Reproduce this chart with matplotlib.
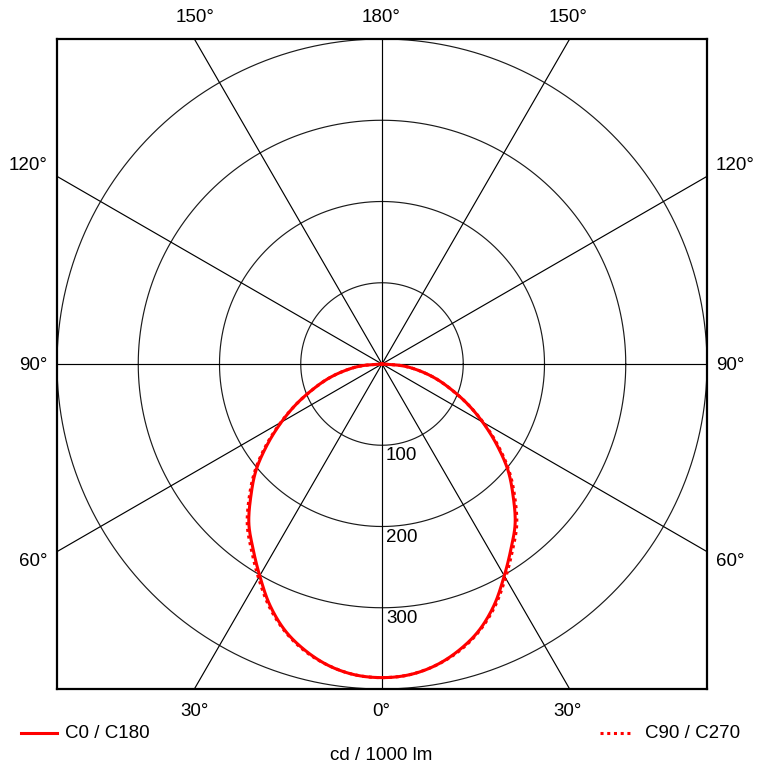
import numpy as np
import matplotlib
matplotlib.use("Agg")
import matplotlib.pyplot as plt

plt.rcParams['font.family'] = ['Liberation Sans', 'DejaVu Sans']

# Data: luminous intensity (cd / 1000 lm) vs. gamma angle (deg, 0 = downward)
gamma_deg = [0, 5, 10, 15, 20, 25, 30, 35, 40, 45, 50, 55, 60, 65, 70, 75, 80, 85, 90]
c0_c180 = [386, 384, 377, 365, 349, 327, 301, 277, 255, 228, 202, 172, 143, 116, 90, 68, 46, 25, 0]
c90_c270 = [386, 384, 377, 366, 350, 329, 304, 280, 258, 231, 204, 174, 144, 116, 90, 68, 46, 25, 0]

ring_values = [100, 200, 300, 400]
ring_labels = ["100", "200", "300"]
spoke_angles = list(range(0, 360, 30))
series_names = ["C0 / C180", "C90 / C270"]
unit_label = "cd / 1000 lm"

W, H = 764, 772
fig = plt.figure(figsize=(W / 100, H / 100), dpi=100)
ax = fig.add_axes([57 / W, 1 - 689 / H, 650 / W, 650 / H])
ax.set_xlim(-400, 400)
ax.set_ylim(-400, 400)
ax.set_xticks([])
ax.set_yticks([])
for s in ax.spines.values():
    s.set_linewidth(1.6)
    s.set_color('black')

t = np.linspace(0, 2 * np.pi, 721)
for r in ring_values:
    ax.plot(r * np.cos(t), r * np.sin(t), color='#1a1a1a', lw=0.85, zorder=1)

for a in spoke_angles:
    ar = np.radians(a)
    ax.plot([0, 1000 * np.sin(ar)], [0, -1000 * np.cos(ar)], color='black', lw=0.85, zorder=1)


def catmull_rom(px, py, n=20):
    px = np.asarray(px, float)
    py = np.asarray(py, float)
    P = np.stack([px, py], axis=1)
    P = np.vstack([2 * P[0] - P[1], P, 2 * P[-1] - P[-2]])
    out = []
    s = np.linspace(0, 1, n, endpoint=False)
    for i in range(1, len(P) - 2):
        p0, p1, p2, p3 = P[i - 1], P[i], P[i + 1], P[i + 2]
        for u in s:
            u2, u3 = u * u, u * u * u
            pt = 0.5 * ((2 * p1) + (-p0 + p2) * u + (2 * p0 - 5 * p1 + 4 * p2 - p3) * u2
                        + (-p0 + 3 * p1 - 3 * p2 + p3) * u3)
            out.append(pt)
    out.append(P[-2])
    out = np.array(out)
    return out[:, 0], out[:, 1]


def curve(vals):
    g = np.radians(np.array(gamma_deg, dtype=float))
    v = np.array(vals, dtype=float)
    gg = np.concatenate([-g[::-1], g[1:]])
    vv = np.concatenate([v[::-1], v[1:]])
    x = vv * np.sin(gg)
    y = -vv * np.cos(gg)
    return catmull_rom(x, y)


x1, y1 = curve(c0_c180)
x2, y2 = curve(c90_c270)
ax.plot(x2, y2, color='red', lw=2.2, linestyle=(0, (1, 1.2)), zorder=3)
ax.plot(x1, y1, color='red', lw=2.2, zorder=4)

for r, lab in zip(ring_values, ring_labels):
    ax.text(5, -(r + 13), lab, ha='left', va='center', fontsize=13.5, color='black', zorder=5)

fs = 13.5
def ftext(px, py, s, ha='center'):
    fig.text(px / W, 1 - py / H, s, ha=ha, va='center', fontsize=fs, color='black')

ftext(381, 17, "180°")
ftext(195, 17, "150°")
ftext(568, 17, "150°")
ftext(48, 166, "120°", ha='right')
ftext(716, 166, "120°", ha='left')
ftext(48, 365, "90°", ha='right')
ftext(716, 365, "90°", ha='left')
ftext(48, 562, "60°", ha='right')
ftext(716, 562, "60°", ha='left')
ftext(195, 712, "30°")
ftext(381, 712, "0°")
ftext(568, 712, "30°")
ftext(381, 755, unit_label)

# legend
fig.add_artist(plt.Line2D([21 / W, 57 / W], [1 - 733 / H, 1 - 733 / H], color='red', lw=2.2))
ftext(65, 733, series_names[0], ha='left')
fig.add_artist(plt.Line2D([600 / W, 633 / W], [1 - 733 / H, 1 - 733 / H], color='red', lw=2.2,
                          linestyle=(0, (1, 1.2))))
ftext(645, 733, series_names[1], ha='left')

fig.savefig("out.png", dpi=100, facecolor='white')
